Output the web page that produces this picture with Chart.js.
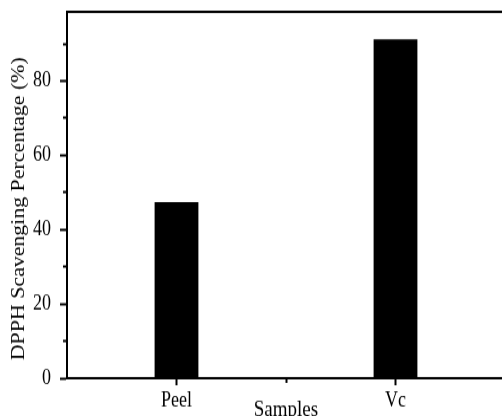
<!DOCTYPE html>
<html>
<head>
<meta charset="utf-8">
<script src="https://cdn.jsdelivr.net/npm/chart.js@4/dist/chart.umd.min.js"></script>
<style>
    html, body { margin: 0; padding: 0; background: #fff; }
    #wrap { width: 502px; height: 416px; overflow: hidden; }
</style>
</head>
<body>
<div id="wrap">
    <canvas id="chart" width="508" height="352" style="width:508px;height:416px"></canvas>
</div>
<script>
const samples = ["Peel", "Vc"];
const scavenging = [47.4, 91.2];
const yLabels = [0, 20, 40, 60, 80];
const yMax = 98.6;

// one empty slot before, between and after the samples, so the axis gets a tick at the boundary too
const labels = [""];
const values = [null];
samples.forEach((s, i) => {
    labels.push(s, "");
    values.push(scavenging[i], null);
});

const serif = "'Liberation Serif', 'Times New Roman', serif";

function noPadding(scale) {
    scale.paddingTop = 0;
    scale.paddingBottom = 0;
    scale.paddingLeft = 0;
    scale.paddingRight = 0;
}

new Chart(document.querySelector("#chart"), {
    type: "bar",
    data: {
        labels: labels,
        datasets: [{
            data: values,
            backgroundColor: "#000",
            borderWidth: 0,
            barPercentage: 0.4,
            categoryPercentage: 1
        }]
    },
    options: {
        responsive: false,
        animation: false,
        devicePixelRatio: 1,
        layout: { padding: { top: 10, right: 3, bottom: 0, left: 0 } },
        plugins: {
            legend: { display: false },
            tooltip: { enabled: false }
        },
        scales: {
            x: {
                offset: false,
                border: { color: "#000", width: 2 },
                grid: {
                    offset: false,
                    drawOnChartArea: false,
                    tickLength: 6,
                    tickWidth: 2,
                    tickColor: (ctx) => (ctx.index === 0 || ctx.index === labels.length - 1) ? "rgba(0,0,0,0)" : "#000",
                    tickBorderDash: (ctx) => labels[ctx.index] ? [] : [3, 20]
                },
                ticks: {
                    autoSkip: false,
                    maxRotation: 0,
                    padding: 2,
                    color: "#000",
                    font: { family: serif, size: 18 }
                },
                title: {
                    display: true,
                    text: "Samples",
                    color: "#000",
                    font: { family: serif, size: 19 },
                    padding: { top: 0, bottom: -6 }
                },
                afterFit: (scale) => {
                    scale.height = 32;
                    noPadding(scale);
                }
            },
            top: {
                type: "linear",
                position: "top",
                min: 0,
                max: 1,
                border: { color: "#000", width: 2 },
                grid: { drawOnChartArea: false, drawTicks: false },
                ticks: { display: false },
                afterFit: (scale) => {
                    scale.height = 0;
                    noPadding(scale);
                }
            },
            y: {
                min: 0,
                max: yMax,
                border: { color: "#000", width: 2 },
                grid: {
                    drawOnChartArea: false,
                    tickLength: 7,
                    tickWidth: 2,
                    tickColor: "#000",
                    tickBorderDash: (ctx) => yLabels.includes(ctx.tick.value) ? [] : [0, 3, 20]
                },
                ticks: {
                    stepSize: 10,
                    includeBounds: false,
                    padding: 9,
                    color: "#000",
                    font: { family: serif, size: 18 },
                    callback: (v) => yLabels.includes(v) ? String(v) : ""
                },
                title: {
                    display: true,
                    text: "DPPH Scavenging Percentage (%)     ",
                    color: "#000",
                    font: { family: serif, size: 18.5 },
                    padding: { top: 8, bottom: 0 }
                },
                afterFit: (scale) => {
                    scale.width = 67;
                    noPadding(scale);
                }
            }
        }
    }
});
</script>
</body>
</html>
